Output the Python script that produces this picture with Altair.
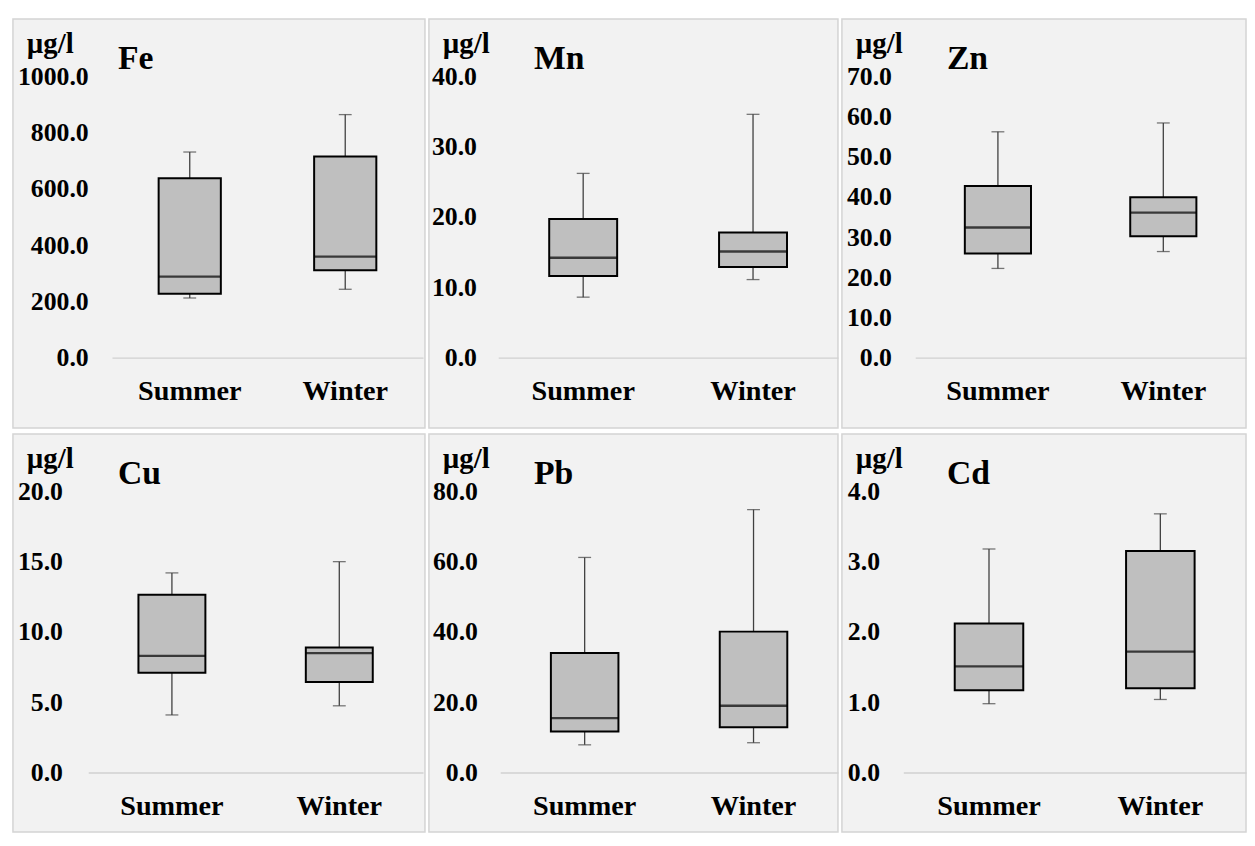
import altair as alt
import pandas as pd

# ---- data ----
elements = ["Fe", "Mn", "Zn", "Cu", "Pb", "Cd"]
seasons = ["Summer", "Winter"]
unit_label = "µg/l"

element_col = ["Fe", "Fe", "Mn", "Mn", "Zn", "Zn", "Cu", "Cu", "Pb", "Pb", "Cd", "Cd"]
season_col = ["Summer", "Winter"] * 6
whisker_low = [212, 243, 8.6, 11.1, 22.2, 26.4, 4.1, 4.75, 7.9, 8.5, 0.98, 1.04]
q1 = [227, 311, 11.6, 12.9, 25.9, 30.2, 7.1, 6.45, 11.7, 12.9, 1.17, 1.20]
median = [288, 359, 14.2, 15.1, 32.4, 36.1, 8.3, 8.5, 15.5, 19.0, 1.51, 1.72]
q3 = [638, 715, 19.7, 17.8, 42.7, 39.9, 12.65, 8.9, 34.0, 40.1, 2.12, 3.15]
whisker_high = [731, 864, 26.2, 34.6, 56.2, 58.4, 14.2, 15.0, 61.2, 74.8, 3.18, 3.68]

axis_max = [1000, 40, 70, 20, 80, 4]
axis_step = [200, 10, 10, 5, 20, 1]

df = pd.DataFrame({
    "element": element_col, "season": season_col,
    "lo": whisker_low, "q1": q1, "med": median, "q3": q3, "hi": whisker_high,
})

# ---- layout / style ----
FONT = "Liberation Serif"
col_w = [416, 413, 408]
row_h = [413, 402]
ZERO_Y = 342      # zero line, px from panel top
TOP_Y = 58        # top tick, px from panel top
label_right = {"Fe": 76, "Mn": 48, "Zn": 50, "Cu": 50, "Pb": 49, "Cd": 38}
x_range = {"Fe": [100, 414], "Mn": [70, 413], "Zn": [74, 408],
           "Cu": [76, 414], "Pb": [72, 413], "Cd": [62, 408]}


def panel(i):
    el = elements[i]
    H = row_h[i // 3]
    W = col_w[i % 3]
    M = axis_max[i]
    k = (ZERO_Y - TOP_Y) / M
    ymax = M + TOP_Y / k
    ymin = -(H - ZERO_Y) / k
    n = int(round(M / axis_step[i]))
    ticks = [axis_step[i] * j for j in range(n + 1)]
    r0, r1 = x_range[el]
    bw = 0.4 * (r1 - r0) / 2

    yaxis = alt.Axis(values=ticks, format=".1f", orient="left", offset=-label_right[el],
                     domain=False, ticks=False, tickSize=0, grid=False, labelPadding=0,
                     labelFont=FONT, labelFontWeight="bold", labelFontSize=26,
                     labelColor="black", title=None, labelFlush=False, labelOverlap=False)
    xaxis = alt.Axis(orient="bottom", offset=-(H - ZERO_Y), domainColor="#d0d0d0",
                     domainWidth=1.5, ticks=False, tickSize=0, labelPadding=19,
                     labelAngle=0, labelFont=FONT, labelFontSize=28.5, labelFontWeight="bold",
                     labelColor="black", title=None, grid=False)
    yscale = alt.Scale(domain=[ymin, ymax], nice=False, zero=False)
    xscale = alt.Scale(domain=seasons, range=[r0, r1], paddingInner=0, paddingOuter=0)
    xenc = alt.X("season:N", scale=xscale, axis=xaxis, sort=seasons)

    def Y(f):
        return alt.Y(f"{f}:Q", scale=yscale, axis=yaxis)

    base = alt.Chart(df[df["element"] == el])
    whisk = base.mark_rule(color="#404040", strokeWidth=1.3).encode(
        x=xenc, y=Y("lo"), y2="hi:Q")
    cap_lo = base.mark_tick(color="#404040", thickness=1.3, size=13).encode(x=xenc, y=Y("lo"))
    cap_hi = base.mark_tick(color="#404040", thickness=1.3, size=13).encode(x=xenc, y=Y("hi"))
    box = base.mark_bar(size=bw, fill="#bfbfbf", stroke="black", strokeWidth=2).encode(
        x=xenc, y=Y("q1"), y2="q3:Q")
    med = base.mark_tick(color="black", thickness=2.4, size=bw).encode(x=xenc, y=Y("med"))

    unit = alt.Chart(alt.Data(values=[{"t": unit_label}])).mark_text(
        align="left", baseline="alphabetic", font=FONT, fontSize=29, fontWeight="bold",
        color="black").encode(text="t:N", x=alt.value(14), y=alt.value(34))
    name = alt.Chart(alt.Data(values=[{"t": el}])).mark_text(
        align="left", baseline="alphabetic", font=FONT, fontSize=34, fontWeight="bold",
        color="black").encode(text="t:N", x=alt.value(106), y=alt.value(51))

    return alt.layer(whisk, cap_lo, cap_hi, box, med, unit, name).properties(width=W, height=H)


top = alt.hconcat(*[panel(i) for i in range(3)], spacing=2)
bottom = alt.hconcat(*[panel(i) for i in range(3, 6)], spacing=2)
chart = alt.vconcat(top, bottom, spacing=4).properties(
    padding={"left": 4, "top": 6, "right": 0, "bottom": 0},
    background="white",
).configure_view(fill="#f2f2f2", stroke="#d4d4d4", strokeWidth=1.5)

chart.save("out.html", embed_options={"renderer": "svg", "actions": False})
